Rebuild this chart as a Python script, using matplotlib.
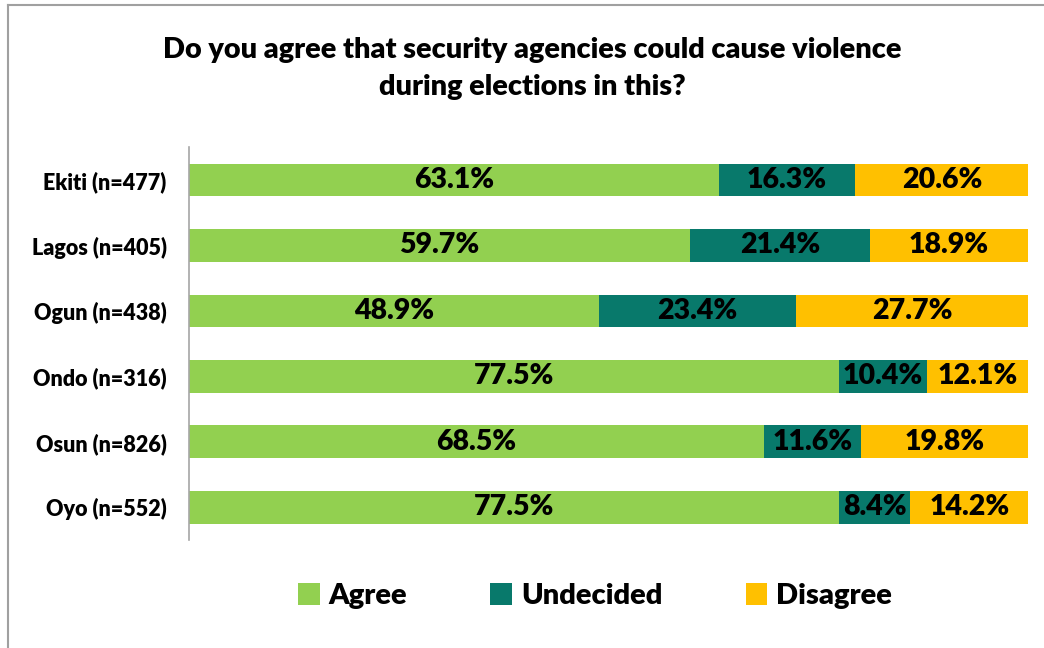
import numpy as np
import matplotlib
matplotlib.use('Agg')
import matplotlib.pyplot as plt
from matplotlib.patches import Patch
from matplotlib.lines import Line2D

plt.rcParams['font.family'] = ['Lato', 'DejaVu Sans']
plt.rcParams['font.weight'] = 'heavy'

states = ['Ekiti (n=477)', 'Lagos (n=405)', 'Ogun (n=438)',
          'Ondo (n=316)', 'Osun (n=826)', 'Oyo (n=552)']
agree = [63.1, 59.7, 48.9, 77.5, 68.5, 77.5]
undecided = [16.3, 21.4, 23.4, 10.4, 11.6, 8.4]
disagree = [20.6, 18.9, 27.7, 12.1, 19.8, 14.2]

series = [('Agree', agree, '#92D050'),
          ('Undecided', undecided, '#08796B'),
          ('Disagree', disagree, '#FFC000')]

fig = plt.figure(figsize=(10.44, 6.48), dpi=100)
ax = fig.add_axes([0.181, 0.1667, 0.804, 0.606])

y = np.arange(len(states))
left = np.zeros(len(states))
for name, vals, col in series:
    vals = np.array(vals)
    bars = ax.barh(y, vals, left=left, height=0.5, color=col, label=name)
    for yi, l, v in zip(y, left, vals):
        ax.text(l + v / 2, yi, f'{v:.1f}%', ha='center', va='center',
                fontsize=20.5, fontweight='heavy', color='black')
    left += vals

ax.set_xlim(0, 100)
ax.set_ylim(len(states) - 0.5, -0.5)
ax.set_yticks(y)
ax.set_yticklabels(states, fontsize=15.5, fontweight='heavy')
ax.tick_params(axis='y', length=0, pad=16)
ax.set_xticks([])
for s in ['top', 'right', 'bottom']:
    ax.spines[s].set_visible(False)
ax.spines['left'].set_color('#a6a6a6')
ax.spines['left'].set_linewidth(1.2)

fig.text(0.51, 0.894, 'Do you agree that security agencies could cause violence\nduring elections in this?',
         ha='center', va='center', fontsize=20.8, fontweight='heavy', linespacing=1.55)

handles = [Patch(facecolor=c, label=n) for n, _, c in series]
fig.legend(handles=handles, loc='center', bbox_to_anchor=(0.570, 0.08), ncol=3,
           frameon=False, fontsize=21, handlelength=0.75, handleheight=0.75,
           columnspacing=2.85, handletextpad=0.3)

# chart frame
fig.add_artist(Line2D([0.008, 1.0], [0.992, 0.992], transform=fig.transFigure,
                      color='#a0a0a0', lw=1.5))
fig.add_artist(Line2D([0.008, 0.008], [0.0, 0.992], transform=fig.transFigure,
                      color='#a0a0a0', lw=1.5))

fig.savefig('out.png', dpi=100)
